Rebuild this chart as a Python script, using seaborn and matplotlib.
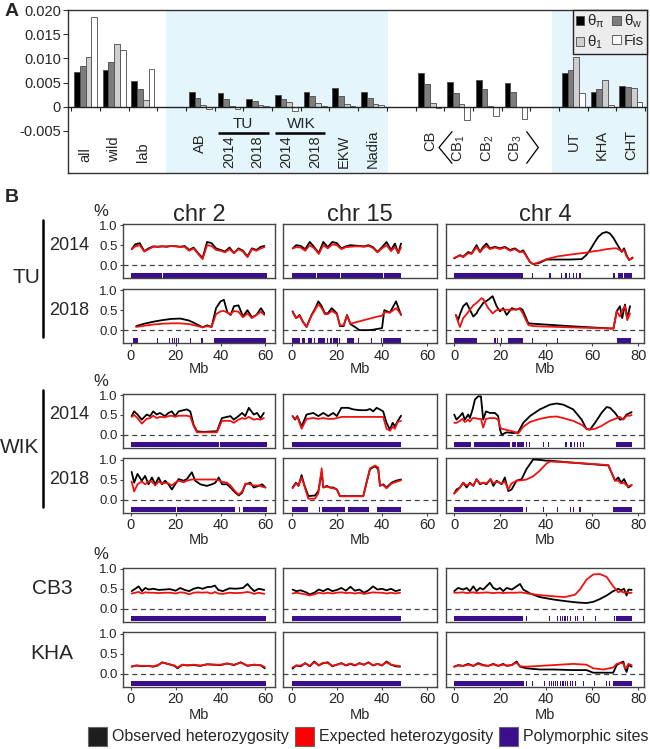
import matplotlib
matplotlib.use("Agg")
import matplotlib.pyplot as plt
from matplotlib.patches import Patch, Rectangle
from matplotlib.lines import Line2D
import pandas as pd
import seaborn as sns

# ---------------- panel A : diversity statistics ----------------
GROUPS = ["all", "wild", "lab", "AB", "2014", "2018", "2014", "2018", "EKW", "Nadia",
          "CB", "CB$_1$", "CB$_2$", "CB$_3$", "UT", "KHA", "CHT"]
SLOTS = [0, 1, 2, 4, 5, 6, 7, 8, 9, 10, 12, 13, 14, 15, 17, 18, 19]
THETA_PI = [0.0071, 0.0075, 0.0053, 0.0031, 0.0029, 0.0016, 0.0024, 0.0031, 0.0038, 0.0031,
            0.0070, 0.0051, 0.0055, 0.0050, 0.0070, 0.0030, 0.0043]
THETA_W = [0.0085, 0.0092, 0.0036, 0.0017, 0.0016, 0.0012, 0.0016, 0.0022, 0.0022, 0.0019,
           0.0047, 0.0028, 0.0036, 0.0030, 0.0075, 0.0036, 0.0040]
THETA_1 = [0.0102, 0.0129, 0.0014, 0.0003, 0.0001, 0.0003, 0.0009, 0.0007, 0.0006, 0.0006,
           0.0008, 0.0006, 0.0002, 0.0000, 0.0102, 0.0055, 0.0038]
FIS = [0.0185, 0.0117, 0.0078, -0.0005, -0.0004, 0.0001, -0.0009, 0.0001, 0.0001, 0.0003,
       -0.0003, -0.0027, -0.0019, -0.0025, 0.0028, 0.0004, 0.0009]
A_STATS = ["θ$_\\pi$", "θ$_w$", "θ$_1$", "Fis"]
A_YTICKS = [0.020, 0.015, 0.010, 0.005, 0, -0.005]
A_YLABELS = ["0.020", "0.015", "0.010", "0.005", "0", "-0.005"]

# ---------------- panel B : heterozygosity along chromosomes ----------------
# TU 2014
TU14_C2_X = [0.4, 2, 4, 6, 8, 10, 12, 14, 16, 18, 20, 22, 24, 26, 28, 30, 32, 34, 36, 38, 40,
             42, 44, 46, 48, 50, 52, 54, 56, 58, 59.5]
TU14_C2_OBS = [0.40, 0.52, 0.55, 0.35, 0.42, 0.47, 0.46, 0.47, 0.46, 0.48, 0.47, 0.46, 0.48, 0.38,
               0.44, 0.30, 0.18, 0.58, 0.55, 0.42, 0.38, 0.34, 0.44, 0.30, 0.42, 0.36, 0.22, 0.42,
               0.38, 0.46, 0.48]
TU14_C2_EXP = [0.40, 0.47, 0.50, 0.34, 0.40, 0.46, 0.46, 0.47, 0.47, 0.48, 0.48, 0.45, 0.46, 0.36,
               0.42, 0.28, 0.15, 0.50, 0.48, 0.38, 0.36, 0.32, 0.40, 0.30, 0.40, 0.34, 0.20, 0.40,
               0.36, 0.42, 0.45]
TU14_C2_SITES = [(0, 14.1), (14.4, 33.8), (34.1, 60.5)]

TU14_C15_X = [0.5, 2, 4, 6, 8, 10, 12, 14, 16, 18, 20, 22, 24, 26, 28, 30, 32, 34, 36, 38, 40,
              42, 44, 45.7, 47.2, 48.4]
TU14_C15_OBS = [0.42, 0.50, 0.48, 0.40, 0.58, 0.45, 0.30, 0.58, 0.45, 0.58, 0.55, 0.42, 0.47,
                0.50, 0.49, 0.48, 0.47, 0.50, 0.45, 0.33, 0.45, 0.58, 0.38, 0.54, 0.30, 0.54]
TU14_C15_EXP = [0.42, 0.45, 0.44, 0.36, 0.50, 0.42, 0.28, 0.50, 0.42, 0.52, 0.50, 0.40, 0.45,
                0.46, 0.47, 0.47, 0.46, 0.48, 0.43, 0.32, 0.42, 0.50, 0.35, 0.46, 0.30, 0.44]
TU14_C15_SITES = [(0, 10.9), (11.2, 21.5), (21.8, 36.8), (37.1, 40.4), (40.7, 48.5)]

TU14_C4_X = [0, 2.5, 3.9, 6.1, 7.5, 9.7, 11.2, 12.6, 14, 15.5, 17.7, 19.9, 22, 24.2, 26.4, 28.6,
             30, 32.9, 34.3, 37.2, 40.1, 45, 50, 55.4, 57.2, 59, 60.8, 62.6, 64.4, 66.2, 67.7,
             69.2, 70.6, 72.8, 73.8, 74.9, 76, 77.5]
TU14_C4_OBS = [0.17, 0.25, 0.21, 0.33, 0.29, 0.50, 0.33, 0.46, 0.54, 0.42, 0.46, 0.42, 0.46, 0.38,
               0.42, 0.33, 0.37, 0.08, 0.025, 0.06, 0.14, 0.14, 0.14, 0.15, 0.24, 0.375, 0.55,
               0.71, 0.80, 0.83, 0.79, 0.68, 0.54, 0.33, 0.42, 0.25, 0.125, 0.19]
TU14_C4_EXP = [0.18, 0.24, 0.20, 0.30, 0.28, 0.45, 0.32, 0.42, 0.48, 0.40, 0.44, 0.40, 0.44, 0.36,
               0.40, 0.32, 0.34, 0.08, 0.02, 0.08, 0.15, 0.22, 0.26, 0.30, 0.31, 0.33, 0.35,
               0.36, 0.38, 0.40, 0.41, 0.42, 0.42, 0.35, 0.38, 0.22, 0.14, 0.17]
TU14_C4_SITES = [(0, 30), (33.8, 34.3), (41.4, 41.8), (46.5, 46.9), (48.3, 48.7), (50, 50.4),
                 (51.5, 51.9), (53, 53.4), (54.4, 54.8), (69.2, 69.6), (71.2, 73.5), (73.9, 77.1)]

# TU 2018
TU18_C2_X = [2.4, 6, 10, 14, 18, 22, 26, 30, 32, 34, 36, 38, 40, 41.5, 43, 44.5, 46, 48, 50, 52,
             54, 56, 58, 59.5]
TU18_C2_OBS = [0.10, 0.16, 0.21, 0.25, 0.28, 0.29, 0.24, 0.13, 0.07, 0.12, 0.08, 0.55, 0.72, 0.76,
               0.45, 0.38, 0.60, 0.62, 0.34, 0.50, 0.32, 0.38, 0.55, 0.42]
TU18_C2_EXP = [0.08, 0.11, 0.14, 0.16, 0.17, 0.17, 0.15, 0.10, 0.07, 0.10, 0.08, 0.40, 0.47, 0.48,
               0.44, 0.40, 0.48, 0.46, 0.32, 0.42, 0.30, 0.38, 0.46, 0.38]
TU18_C2_SITES = [(1.2, 3), (11.7, 12.1), (17.1, 17.5), (18.5, 18.9), (19.3, 19.7), (20.1, 20.5),
                 (21, 21.4), (26.3, 26.7), (31.5, 31.9), (37, 60.3)]

TU18_C15_X = [0.4, 2, 3.5, 5, 6.6, 8.8, 10.5, 11.8, 13.3, 14.7, 16, 17.7, 19, 20, 21.4, 23, 24.5,
              26, 28, 30, 32, 34, 36, 38, 40, 41, 43.5, 46.2, 48.4]
TU18_C15_OBS = [0.47, 0.30, 0.38, 0.21, 0.08, 0.38, 0.55, 0.72, 0.60, 0.42, 0.42, 0.55, 0.48, 0.42,
                0.10, 0.10, 0.38, 0.15, 0.08, 0.0, 0.0, 0.0, 0.01, 0.03, 0.05, 0.50, 0.44, 0.72,
                0.38]
TU18_C15_EXP = [0.45, 0.30, 0.36, 0.20, 0.08, 0.36, 0.52, 0.65, 0.55, 0.40, 0.40, 0.48, 0.44, 0.40,
                0.12, 0.12, 0.36, 0.16, 0.19, 0.22, 0.25, 0.28, 0.31, 0.34, 0.36, 0.45, 0.44, 0.55,
                0.40]
TU18_C15_SITES = [(0, 3.7), (4.4, 5.9), (7.4, 8.8), (10, 10.5), (11.8, 14.7), (15.5, 16),
                  (17, 17.7), (18.5, 20.5), (21, 21.6), (24.3, 27.7), (29.3, 29.7), (35.2, 35.6),
                  (39.6, 40), (40.4, 48.4)]

TU18_C4_X = [0.7, 1.7, 2.5, 3.9, 5.4, 6.8, 8.3, 9.7, 10.4, 11.9, 12.6, 14.8, 16.7, 18.4, 19.9,
             21.3, 22.8, 25, 27, 28.6, 29.7, 32.2, 34.3, 50, 68.4, 69.2, 70.6, 72, 73, 74.2, 75.2,
             76.4]
TU18_C4_OBS = [0.38, 0.25, 0.40, 0.60, 0.68, 0.51, 0.34, 0.42, 0.50, 0.62, 0.68, 0.76, 0.85, 0.60,
               0.47, 0.55, 0.38, 0.55, 0.51, 0.55, 0.51, 0.17, 0.16, 0.10, 0.04, 0.04, 0.47, 0.60,
               0.30, 0.64, 0.30, 0.60]
TU18_C4_EXP = [0.38, 0.20, 0.08, 0.30, 0.40, 0.51, 0.62, 0.68, 0.72, 0.80, 0.78, 0.55, 0.42, 0.50,
               0.51, 0.51, 0.51, 0.51, 0.52, 0.53, 0.43, 0.13, 0.10, 0.07, 0.04, 0.04, 0.47, 0.34,
               0.50, 0.60, 0.25, 0.42]
TU18_C4_SITES = [(0, 9.7), (17.5, 17.9), (18.6, 19), (20.4, 20.8), (23.5, 30), (33.8, 34.2),
                 (44.6, 45), (70.6, 76.7)]

# WIK 2014
WIK14_C2_X = [0.4, 1.5, 3, 4.9, 7.1, 8.6, 10, 11.6, 13, 15.2, 16.8, 18.3, 19.8, 21.3, 25, 26.5,
              28, 29.5, 32.5, 37, 38.4, 40.6, 44.4, 45.9, 48, 49.6, 51, 52.6, 54.8, 56.3, 57.8,
              59.3]
WIK14_C2_OBS = [0.47, 0.59, 0.51, 0.38, 0.51, 0.47, 0.59, 0.51, 0.55, 0.47, 0.55, 0.59, 0.47,
                0.59, 0.64, 0.59, 0.25, 0.085, 0.07, 0.085, 0.085, 0.42, 0.47, 0.38, 0.47, 0.55,
                0.47, 0.68, 0.51, 0.55, 0.42, 0.55]
WIK14_C2_EXP = [0.45, 0.50, 0.42, 0.28, 0.40, 0.42, 0.48, 0.42, 0.45, 0.44, 0.47, 0.48, 0.45,
                0.48, 0.48, 0.46, 0.22, 0.06, 0.06, 0.06, 0.06, 0.35, 0.35, 0.30, 0.38, 0.42,
                0.40, 0.45, 0.38, 0.40, 0.38, 0.42]
WIK14_C2_SITES = [(0, 6.6), (6.9, 27.1), (27.4, 39.5), (39.8, 46.8), (47.1, 60.5)]

WIK14_C15_X = [0.4, 1.5, 2.5, 4.4, 6.6, 9.6, 11.8, 14, 16.2, 18.4, 20, 22, 25, 27.3, 30.2, 33.1,
               34.7, 36.1, 37.6, 39, 40.5, 42, 43.5, 44.7, 45.7, 46.9, 48.4]
WIK14_C15_OBS = [0.47, 0.38, 0.47, 0.21, 0.51, 0.55, 0.47, 0.55, 0.47, 0.55, 0.47, 0.68, 0.68,
                 0.64, 0.62, 0.62, 0.65, 0.59, 0.68, 0.64, 0.59, 0.30, 0.125, 0.30, 0.21, 0.34,
                 0.48]
WIK14_C15_EXP = [0.47, 0.40, 0.45, 0.15, 0.40, 0.42, 0.40, 0.42, 0.40, 0.40, 0.42, 0.45, 0.45,
                 0.45, 0.45, 0.45, 0.45, 0.45, 0.45, 0.45, 0.45, 0.15, 0.10, 0.20, 0.15, 0.32,
                 0.35]
WIK14_C15_SITES = [(0, 48.4)]

WIK14_C4_X = [0, 1, 2.5, 3.6, 4.6, 6.1, 6.8, 8, 9, 10.4, 11.6, 12.6, 13.8, 15.5, 17.7, 19.1,
              19.9, 20.6, 22.8, 25.7, 27.8, 30, 32.9, 37.2, 41.6, 44.5, 47.4, 51.7, 55.4, 57.5,
              59, 61.2, 64, 66.2, 67.7, 69.9, 72, 73.5, 74.9, 76.4, 77.1]
WIK14_C4_OBS = [0.51, 0.38, 0.47, 0.55, 0.38, 0.51, 0.42, 0.64, 0.89, 0.97, 0.97, 0.38, 0.59,
                0.55, 0.55, 0.47, 0.13, 0.0, 0.06, 0.04, 0.06, 0.30, 0.47, 0.64, 0.76, 0.79,
                0.76, 0.64, 0.38, 0.14, 0.13, 0.30, 0.55, 0.70, 0.68, 0.55, 0.38, 0.40, 0.51,
                0.55, 0.57]
WIK14_C4_EXP = [0.30, 0.30, 0.35, 0.40, 0.32, 0.38, 0.33, 0.42, 0.42, 0.40, 0.40, 0.18, 0.40,
                0.42, 0.42, 0.38, 0.20, 0.15, 0.12, 0.08, 0.03, 0.20, 0.32, 0.40, 0.45, 0.46,
                0.42, 0.35, 0.25, 0.15, 0.13, 0.15, 0.22, 0.30, 0.35, 0.40, 0.45, 0.38, 0.48,
                0.48, 0.50]
WIK14_C4_SITES = [(0, 7.5), (8.5, 24.2), (24.9, 25.2), (25.7, 26), (26.5, 26.8), (27.3, 30.3),
                  (31.3, 31.7), (32.5, 32.9), (38.5, 38.9), (40.7, 41.1), (48.3, 48.7),
                  (50.5, 50.9), (52, 52.4), (53.4, 53.8), (54.8, 55.2), (55.8, 56.2), (70.3, 77.1)]

# WIK 2018
WIK18_C2_X = [0.4, 1.5, 3, 4.9, 6.4, 7.9, 9.4, 10.9, 12.4, 13.9, 15.3, 16.8, 18.3, 19.8, 21.3,
              23.5, 25, 27.2, 28.7, 31, 33.9, 36.2, 37.7, 39.2, 40.7, 42.9, 44.4, 46.6, 48.1,
              49.6, 51.1, 53.3, 54.8, 57, 58.5, 60]
WIK18_C2_OBS = [0.69, 0.42, 0.64, 0.47, 0.59, 0.38, 0.55, 0.38, 0.55, 0.38, 0.47, 0.38, 0.25,
                0.38, 0.51, 0.47, 0.51, 0.68, 0.47, 0.38, 0.34, 0.38, 0.42, 0.55, 0.38, 0.38,
                0.30, 0.17, 0.10, 0.17, 0.38, 0.42, 0.30, 0.34, 0.38, 0.30]
WIK18_C2_EXP = [0.45, 0.20, 0.38, 0.45, 0.38, 0.45, 0.45, 0.35, 0.45, 0.40, 0.42, 0.40, 0.35,
                0.42, 0.47, 0.43, 0.47, 0.50, 0.50, 0.50, 0.50, 0.50, 0.50, 0.48, 0.44, 0.42,
                0.35, 0.20, 0.12, 0.20, 0.40, 0.38, 0.35, 0.35, 0.32, 0.30]
WIK18_C2_SITES = [(0, 20.1), (20.4, 27.1), (27.4, 46.5), (48.3, 48.7), (49.8, 60.5)]

WIK18_C15_X = [0.4, 1.9, 3, 4.4, 5.5, 7.4, 10.3, 11.8, 13.3, 14, 15.5, 17, 18.4, 20, 21.4, 24.3,
               28, 31.7, 33.1, 34.7, 36.9, 38.3, 39.1, 40.5, 42, 44.2, 46.2, 48.4]
WIK18_C15_OBS = [0.30, 0.42, 0.34, 0.61, 0.38, 0.085, 0.10, 0.21, 0.68, 0.30, 0.34, 0.30, 0.30,
                 0.25, 0.085, 0.085, 0.085, 0.085, 0.42, 0.76, 0.83, 0.76, 0.34, 0.38, 0.30,
                 0.42, 0.47, 0.50]
WIK18_C15_EXP = [0.28, 0.40, 0.35, 0.55, 0.36, 0.02, 0.02, 0.15, 0.78, 0.30, 0.32, 0.30, 0.28,
                 0.25, 0.08, 0.08, 0.08, 0.08, 0.40, 0.78, 0.85, 0.80, 0.36, 0.36, 0.28, 0.40,
                 0.44, 0.48]
WIK18_C15_SITES = [(0, 7.4), (12, 12.4), (13.6, 23.6), (25, 34.2), (37.6, 48.4)]

WIK18_C4_X = [0, 1, 2.5, 3.9, 5.4, 6.8, 8.3, 9.7, 11.2, 12.6, 14, 15.8, 17, 18.4, 20.6, 22, 23.5,
              24.9, 27.1, 29.3, 31.4, 34.3, 37.2, 40.1, 41.6, 51.7, 67, 69.9, 71.3, 72.5, 73.8,
              74.9, 75.7, 77.1]
WIK18_C4_OBS = [0.15, 0.25, 0.30, 0.42, 0.30, 0.42, 0.34, 0.51, 0.38, 0.42, 0.38, 0.51, 0.34,
                0.47, 0.38, 0.55, 0.21, 0.25, 0.47, 0.51, 0.76, 1.0, 0.99, 0.97, 0.97, 0.92,
                0.85, 0.47, 0.55, 0.42, 0.51, 0.38, 0.30, 0.36]
WIK18_C4_EXP = [0.15, 0.20, 0.30, 0.42, 0.35, 0.40, 0.35, 0.50, 0.40, 0.42, 0.40, 0.51, 0.40,
                0.45, 0.40, 0.45, 0.25, 0.40, 0.47, 0.48, 0.50, 0.58, 0.72, 0.90, 0.95, 0.92,
                0.86, 0.47, 0.47, 0.40, 0.42, 0.35, 0.33, 0.36]
WIK18_C4_SITES = [(0, 29.7), (31, 31.4), (38.5, 38.9), (44.6, 45), (50.1, 50.5), (51.5, 51.9),
                  (54.4, 54.8), (69.1, 77.1)]

# CB3
CB3_C2_X = [0.4, 2, 3.5, 5, 6.5, 8, 10, 12.5, 15, 17.5, 20, 22, 24, 26, 28, 30, 32, 34, 36, 37.5,
            39, 41, 44, 47, 50, 52, 53.5, 55, 57, 59.5]
CB3_C2_OBS = [0.44, 0.50, 0.56, 0.44, 0.52, 0.48, 0.50, 0.47, 0.48, 0.49, 0.45, 0.52, 0.47, 0.44,
              0.50, 0.53, 0.50, 0.54, 0.55, 0.58, 0.47, 0.44, 0.51, 0.50, 0.52, 0.62, 0.52, 0.44,
              0.50, 0.47]
CB3_C2_EXP = [0.38, 0.40, 0.42, 0.38, 0.41, 0.40, 0.40, 0.39, 0.40, 0.40, 0.38, 0.41, 0.40, 0.36,
              0.40, 0.41, 0.40, 0.41, 0.38, 0.42, 0.38, 0.37, 0.40, 0.39, 0.40, 0.42, 0.40, 0.37,
              0.40, 0.37]
CB3_C2_SITES = [(0, 60.3)]

CB3_C15_X = [0.4, 2, 4, 6, 8, 10, 12, 14, 16, 18, 20, 22, 24, 26, 28, 30, 32, 34, 36, 38, 40, 42,
             44, 46, 48]
CB3_C15_OBS = [0.48, 0.44, 0.46, 0.42, 0.36, 0.40, 0.48, 0.44, 0.50, 0.44, 0.47, 0.52, 0.45,
               0.55, 0.45, 0.48, 0.40, 0.46, 0.56, 0.48, 0.50, 0.46, 0.50, 0.44, 0.47]
CB3_C15_EXP = [0.38, 0.40, 0.38, 0.36, 0.33, 0.36, 0.40, 0.38, 0.40, 0.38, 0.40, 0.41, 0.39,
               0.40, 0.38, 0.40, 0.37, 0.39, 0.41, 0.40, 0.40, 0.38, 0.40, 0.38, 0.40]
CB3_C15_SITES = [(0, 48.3)]

CB3_C4_X = [0, 1.7, 3.9, 5.4, 6.8, 8.3, 9.7, 11.2, 12.6, 14, 15.5, 17, 18.4, 19.9, 21.3, 22.8, 25,
            27.1, 28.6, 30, 33, 37.2, 43, 48, 52.5, 54.6, 57.5, 60.4, 63.3, 66.2, 69.1, 71.3,
            72.5, 73.8, 74.9, 75.7, 77.1]
CB3_C4_OBS = [0.44, 0.52, 0.48, 0.52, 0.44, 0.56, 0.44, 0.52, 0.48, 0.56, 0.65, 0.52, 0.48, 0.52,
              0.44, 0.52, 0.48, 0.56, 0.62, 0.48, 0.38, 0.29, 0.23, 0.19, 0.16, 0.15, 0.14, 0.17,
              0.24, 0.33, 0.44, 0.50, 0.46, 0.50, 0.33, 0.48, 0.47]
CB3_C4_EXP = [0.40, 0.40, 0.41, 0.39, 0.40, 0.41, 0.39, 0.40, 0.40, 0.41, 0.40, 0.39, 0.40, 0.40,
              0.39, 0.40, 0.40, 0.40, 0.41, 0.40, 0.37, 0.34, 0.31, 0.29, 0.35, 0.48, 0.73, 0.86,
              0.87, 0.80, 0.56, 0.41, 0.44, 0.40, 0.42, 0.39, 0.40]
CB3_C4_SITES = [(0, 30), (31, 31.4), (41.1, 41.5), (44.6, 45), (45.8, 46.1), (46.9, 47.2),
                (47.9, 48.2), (49, 49.3), (50.1, 50.4), (52.3, 52.6), (53.5, 53.8), (55.9, 56.2),
                (61, 61.3), (69.3, 69.6), (70.4, 77.1)]

# KHA
KHA_C2_X = [0.4, 2.5, 5, 7.5, 10, 12, 14, 16.5, 19.5, 20.8, 23, 25, 28, 31, 34, 37, 40, 43, 46,
            49, 52, 55, 58, 59.7]
KHA_C2_OBS = [0.17, 0.20, 0.18, 0.19, 0.17, 0.20, 0.28, 0.24, 0.19, 0.13, 0.22, 0.20, 0.21, 0.19,
              0.23, 0.22, 0.21, 0.25, 0.21, 0.28, 0.19, 0.22, 0.20, 0.13]
KHA_C2_EXP = [0.18, 0.20, 0.19, 0.19, 0.18, 0.21, 0.27, 0.24, 0.20, 0.15, 0.22, 0.21, 0.22, 0.20,
              0.23, 0.22, 0.22, 0.25, 0.22, 0.27, 0.20, 0.22, 0.21, 0.16]
KHA_C2_SITES = [(0, 60.3)]

KHA_C15_X = [0.4, 2, 4, 6, 8, 10, 12, 14, 16, 18, 20, 22, 24, 26, 28, 30, 32, 34, 36, 38, 40, 42,
             44, 46, 48]
KHA_C15_OBS = [0.12, 0.20, 0.18, 0.26, 0.18, 0.30, 0.20, 0.26, 0.28, 0.18, 0.22, 0.26, 0.20,
               0.24, 0.20, 0.26, 0.22, 0.28, 0.20, 0.24, 0.20, 0.30, 0.22, 0.18, 0.17]
KHA_C15_EXP = [0.15, 0.20, 0.20, 0.25, 0.19, 0.28, 0.21, 0.27, 0.26, 0.19, 0.22, 0.25, 0.21,
               0.25, 0.21, 0.25, 0.22, 0.27, 0.21, 0.24, 0.21, 0.28, 0.22, 0.20, 0.18]
KHA_C15_SITES = [(0, 48.3)]

KHA_C4_X = [0, 1.7, 3.9, 6.1, 8.3, 10.4, 12.6, 14.8, 17, 19.1, 21.3, 22.8, 25, 27.1, 28.6, 31.4,
            37.2, 43, 51.7, 57.5, 60.4, 64.8, 69.1, 70.6, 72, 73.5, 74.2, 74.9, 75.7, 77.1]
KHA_C4_OBS = [0.17, 0.21, 0.19, 0.24, 0.19, 0.26, 0.21, 0.19, 0.24, 0.19, 0.24, 0.19, 0.21, 0.30,
              0.17, 0.13, 0.10, 0.10, 0.085, 0.085, 0.02, 0.02, 0.02, 0.21, 0.26, 0.30, 0.13,
              0.04, 0.21, 0.17]
KHA_C4_EXP = [0.17, 0.20, 0.19, 0.22, 0.19, 0.24, 0.20, 0.19, 0.23, 0.19, 0.22, 0.20, 0.21, 0.27,
              0.18, 0.17, 0.19, 0.21, 0.24, 0.22, 0.13, 0.10, 0.15, 0.24, 0.26, 0.25, 0.13, 0.15,
              0.24, 0.21]
KHA_C4_SITES = [(0, 30.2), (31, 31.4), (33.8, 34.2), (38.8, 39.2), (41, 41.3), (42, 42.3),
                (42.8, 43.1), (43.8, 44.1), (44.8, 45.1), (45.9, 46.2), (47, 47.3), (48, 48.3),
                (49, 49.3), (50.1, 50.4), (51.3, 51.6), (52.3, 52.6), (55.9, 56.2), (60.8, 61.1),
                (66, 66.3), (67.2, 67.5), (68.8, 77.1)]

CHROMS = ["chr 2", "chr 15", "chr 4"]
CHR_TICKS = [[0, 20, 40, 60], [0, 20, 40, 60], [0, 20, 40, 60, 80]]

# ---------------------------------------------------------------------------
sns.set_style("white")
plt.rcParams["font.family"] = ["Liberation Sans", "DejaVu Sans"]
plt.rcParams["mathtext.default"] = "regular"

W, H = 650, 749
fig = plt.figure(figsize=(6.5, 7.49), dpi=100)


def box(l, t, r, b):
    return [l / W, 1 - b / H, (r - l) / W, (b - t) / H]


def ftext(x, y, s, **kw):
    fig.text(x / W, 1 - y / H, s, **kw)


# panel A pixel -> data helpers
def xa(px):
    return (px - 85.5) / 28.7


def ya(py):
    return (106.7 - py) * 0.0002068


axA = fig.add_axes(box(68, 10, 647, 173))
A_COLORS = ["black", "#7d7d7d", "#cfcfcf", "white"]
dfA = pd.DataFrame({
    "slot": SLOTS * 4,
    "stat": sum([[s] * len(SLOTS) for s in A_STATS], []),
    "value": THETA_PI + THETA_W + THETA_1 + FIS,
})
axA.axvspan(xa(166), xa(388), color="#e4f6fb", zorder=0, lw=0)
axA.axvspan(xa(552), xa(660), color="#e4f6fb", zorder=0, lw=0)
sns.barplot(data=dfA, x="slot", y="value", hue="stat", hue_order=A_STATS,
            palette=A_COLORS, native_scale=True, orient="x", errorbar=None,
            edgecolor="#4a4a4a", linewidth=0.6, legend=False, ax=axA, zorder=2)
axA.axhline(0, color="#222222", lw=1.0, zorder=3)
# little ticks hanging from the zero line between groups
axA.vlines([i - 0.5 for i in range(21)], ya(110.5), 0, color="#222222", lw=0.8, zorder=3)
axA.set_xlim(xa(68), xa(647))
axA.set_ylim(ya(173), ya(10))
axA.set_yticks(A_YTICKS)
axA.set_yticklabels(A_YLABELS)
axA.set_xticks([])
axA.set_xlabel("")
axA.set_ylabel("")
axA.tick_params(axis="y", left=True, direction="out", length=3.5, width=0.8, pad=1.5,
                labelsize=10.5, color="#333333")
for sp in axA.spines.values():
    sp.set_color("#333333")
    sp.set_linewidth(1.0)

# group labels under the zero line
label_bottom = [162, 162, 162, 153, 168, 168, 168, 168, 168, 168, 151, 162, 162, 162, 151, 160, 160]
for s, g, yb in zip(SLOTS, GROUPS, label_bottom):
    axA.text(s, ya(yb), g, rotation=90, ha="center", va="bottom", fontsize=10.5)
# TU / WIK brackets
axA.plot([xa(218), xa(269)], [ya(133)] * 2, color="black", lw=1.8, solid_capstyle="butt")
axA.plot([xa(275), xa(325)], [ya(133)] * 2, color="black", lw=1.8, solid_capstyle="butt")
axA.text(xa(243), ya(124), "TU", ha="center", va="center", fontsize=11)
axA.text(xa(301), ya(124), "WIK", ha="center", va="center", fontsize=11)
# CB angle brackets
axA.plot([xa(452), xa(439), xa(452)], [ya(131.7), ya(147.5), ya(163.3)], color="black", lw=0.9)
axA.plot([xa(526.7), xa(538.3), xa(526.7)], [ya(131.7), ya(147.5), ya(163.3)], color="black", lw=0.9)

# legend: rows (θπ, θw) and (θ1, Fis)
leg_order = [0, 2, 1, 3]
handles = [Patch(facecolor=A_COLORS[i], edgecolor="#4a4a4a", lw=0.6) for i in leg_order]
leg = axA.legend(handles, [A_STATS[i] for i in leg_order], ncol=2, loc="upper right",
                 fontsize=11, frameon=True, fancybox=False, edgecolor="#222222",
                 facecolor="#ececec", framealpha=1, borderpad=0.2, handlelength=0.55,
                 handleheight=0.55, handletextpad=0.2, columnspacing=0.5, labelspacing=0.2,
                 borderaxespad=0.0)
leg.get_frame().set_linewidth(1.0)
ftext(12, 12, "A", fontsize=14, fontweight="bold", ha="center", va="center")

# ---------------- panel B ----------------
COLS = [(122.7, 275.3), (283.3, 436.7), (445.7, 644.3)]
ROWS = [(224, 278.3), (289, 343.3), (394, 447.7), (458.3, 512.7), (567.7, 621.7), (632.3, 686.7)]
XLIMS = [(-3.6, 64.4), (-3.7, 64.2), (-3.7, 82.6)]
YLIM = (-0.33, 1.03)
PURPLE = "#3b0f8c"
RED = "#f21111"

PANELS = {
    (0, 0): (TU14_C2_X, TU14_C2_OBS, TU14_C2_EXP, TU14_C2_SITES),
    (0, 1): (TU14_C15_X, TU14_C15_OBS, TU14_C15_EXP, TU14_C15_SITES),
    (0, 2): (TU14_C4_X, TU14_C4_OBS, TU14_C4_EXP, TU14_C4_SITES),
    (1, 0): (TU18_C2_X, TU18_C2_OBS, TU18_C2_EXP, TU18_C2_SITES),
    (1, 1): (TU18_C15_X, TU18_C15_OBS, TU18_C15_EXP, TU18_C15_SITES),
    (1, 2): (TU18_C4_X, TU18_C4_OBS, TU18_C4_EXP, TU18_C4_SITES),
    (2, 0): (WIK14_C2_X, WIK14_C2_OBS, WIK14_C2_EXP, WIK14_C2_SITES),
    (2, 1): (WIK14_C15_X, WIK14_C15_OBS, WIK14_C15_EXP, WIK14_C15_SITES),
    (2, 2): (WIK14_C4_X, WIK14_C4_OBS, WIK14_C4_EXP, WIK14_C4_SITES),
    (3, 0): (WIK18_C2_X, WIK18_C2_OBS, WIK18_C2_EXP, WIK18_C2_SITES),
    (3, 1): (WIK18_C15_X, WIK18_C15_OBS, WIK18_C15_EXP, WIK18_C15_SITES),
    (3, 2): (WIK18_C4_X, WIK18_C4_OBS, WIK18_C4_EXP, WIK18_C4_SITES),
    (4, 0): (CB3_C2_X, CB3_C2_OBS, CB3_C2_EXP, CB3_C2_SITES),
    (4, 1): (CB3_C15_X, CB3_C15_OBS, CB3_C15_EXP, CB3_C15_SITES),
    (4, 2): (CB3_C4_X, CB3_C4_OBS, CB3_C4_EXP, CB3_C4_SITES),
    (5, 0): (KHA_C2_X, KHA_C2_OBS, KHA_C2_EXP, KHA_C2_SITES),
    (5, 1): (KHA_C15_X, KHA_C15_OBS, KHA_C15_EXP, KHA_C15_SITES),
    (5, 2): (KHA_C4_X, KHA_C4_OBS, KHA_C4_EXP, KHA_C4_SITES),
}
BOTTOM_ROWS = {1: 26, 3: 27, 5: 28}   # offset of the "Mb" label below the axes

for (r, c), (xs, obs, exp, sites) in PANELS.items():
    t, b = ROWS[r]
    l, rr = COLS[c]
    ax = fig.add_axes(box(l, t, rr, b))
    ax.broken_barh([(s, max(e - s, 0.5)) for s, e in sites], (-0.315, 0.125),
                   facecolors=PURPLE, lw=0, zorder=1)
    ax.axhline(0, color="#444444", lw=0.9, ls=(0, (4, 3)), zorder=1)
    sns.lineplot(x=xs, y=obs, color="black", lw=1.3, estimator=None, ax=ax, zorder=3)
    sns.lineplot(x=xs, y=exp, color=RED, lw=1.3, estimator=None, ax=ax, zorder=4)
    ax.set_xlim(*XLIMS[c])
    ax.set_ylim(*YLIM)
    if c == 0:
        ax.set_yticks([0, 0.5, 1.0])
        ax.set_yticklabels(["0.0", "0.5", "1.0"])
        ax.tick_params(axis="y", left=True, length=2.5, width=0.8, pad=1, labelsize=9.5,
                       color="#444444")
    else:
        ax.set_yticks([])
    if r in BOTTOM_ROWS:
        ax.set_xticks(CHR_TICKS[c])
        ax.tick_params(axis="x", bottom=True, length=2.5, width=0.8, pad=1.5, labelsize=10.5,
                       color="#444444")
        ftext((l + rr) / 2, b + BOTTOM_ROWS[r], "Mb", fontsize=10.5, ha="center", va="center")
    else:
        ax.set_xticks([])
    ax.set_xlabel("")
    ax.set_ylabel("")
    for sp in ax.spines.values():
        sp.set_color("#444444")
        sp.set_linewidth(1.0)


def y_at(r, v):
    t, b = ROWS[r]
    return t + (YLIM[1] - v) / (YLIM[1] - YLIM[0]) * (b - t)


for c, name in enumerate(CHROMS):
    ftext((COLS[c][0] + COLS[c][1]) / 2, 215, name, fontsize=17, ha="center", va="center")

for r, yr in [(0, "2014"), (1, "2018"), (2, "2014"), (3, "2018")]:
    ftext(89, y_at(r, 0.5), yr, fontsize=13, ha="right", va="center")
for r in (0, 2, 4):
    ftext(101, ROWS[r][0] - 13, "%", fontsize=12, ha="center", va="center")

ftext(26.5, 277.5, "TU", fontsize=15, ha="center", va="center")
ftext(20, 447.5, "WIK", fontsize=15, ha="center", va="center")
ftext(52.5, y_at(4, 0.5), "CB3", fontsize=15, ha="center", va="center")
ftext(52, y_at(5, 0.5), "KHA", fontsize=15, ha="center", va="center")
fig.add_artist(Line2D([43 / W] * 2, [1 - 220 / H, 1 - 337 / H], color="black", lw=1.8))
fig.add_artist(Line2D([43 / W] * 2, [1 - 390 / H, 1 - 507 / H], color="black", lw=1.8))
ftext(12, 197, "B", fontsize=14, fontweight="bold", ha="center", va="center")

# bottom legend
LEG_ITEMS = [("Observed heterozygosity", "#1e1e1e", 88), ("Expected heterozygosity", "#ff0000", 295),
             ("Polymorphic sites", PURPLE, 499)]
for text, col, x0 in LEG_ITEMS:
    fig.add_artist(Rectangle((x0 / W, 1 - 746 / H), 19 / W, 19 / H, facecolor=col,
                             edgecolor="#666666", lw=0.8, transform=fig.transFigure))
    ftext(x0 + 24, 737, text, fontsize=11.5, ha="left", va="center")

fig.savefig("out.png", dpi=100)
